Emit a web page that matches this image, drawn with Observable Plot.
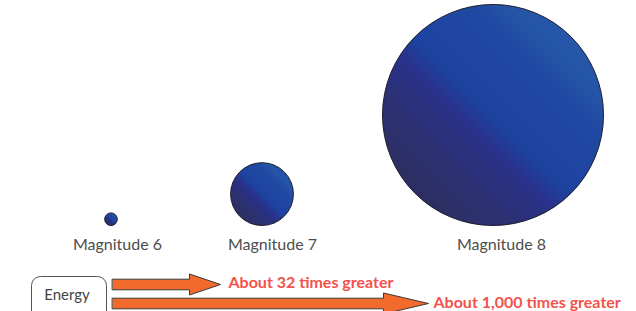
<!DOCTYPE html>
<html>
<head>
<meta charset="utf-8">
<script src="https://cdn.jsdelivr.net/npm/d3@7"></script>
<script src="https://cdn.jsdelivr.net/npm/@observablehq/plot@0.6"></script>
<style>
  html, body { margin: 0; padding: 0; background: #fff; }
  #chart svg { display: block; }
</style>
</head>
<body>
<div id="chart"></div>
<script>
// ---- data ----
const magnitudes = [6, 7, 8];
const magnitudeLabels = ["Magnitude 6", "Magnitude 7", "Magnitude 8"];
const relativeEnergy = [1, 32, 1000];
const comparisonLabels = ["About 32 times greater", "About 1,000 times greater"];
const legendLabel = "Energy";

// ---- layout (pixel positions / sizes, kept separate from data) ----
const W = 636, H = 311;
const circleCx = [110.5, 261.5, 492.5];
const circleBottom = 225;
const labelCx = [117, 272, 501];
const labelY = 244;
const radiusRange = [6.3, 31.4, 110.5];
const arrowLayout = [
  {y: 284, x0: 112, headBase: 189, tip: 220, textX: 228, textY: 282},
  {y: 303, x0: 112, headBase: 383, tip: 428, textX: 433, textY: 302}
];
const shaftHalf = 5.3, headHalf = 10.5;

const circles = magnitudes.map((m, i) => ({
  magnitude: m, energy: relativeEnergy[i], x: circleCx[i], y: circleBottom
}));
const labels = magnitudeLabels.map((t, i) => ({text: t, x: labelCx[i], y: labelY}));
const arrowPolys = [];
arrowLayout.forEach((a, i) => {
  const pts = [
    [a.x0, a.y - shaftHalf], [a.headBase, a.y - shaftHalf], [a.headBase, a.y - headHalf],
    [a.tip, a.y], [a.headBase, a.y + headHalf], [a.headBase, a.y + shaftHalf], [a.x0, a.y + shaftHalf]
  ];
  pts.forEach(p => arrowPolys.push({id: i, x: p[0], y: p[1]}));
});
const comparisons = comparisonLabels.map((t, i) => ({text: t, x: arrowLayout[i].textX, y: arrowLayout[i].textY}));

const chart = Plot.plot({
  width: W, height: H,
  margin: 0,
  x: {type: "identity", axis: null},
  y: {type: "identity", axis: null},
  r: {type: "linear", domain: relativeEnergy, range: radiusRange},
  style: {background: "#fff", fontFamily: "Lato, 'Open Sans', sans-serif", overflow: "visible"},
  marks: [
    Plot.dot(circles, {x: "x", y: "y", r: "energy", fill: "url(#ballGrad)", stroke: "#1d1d2e", strokeWidth: 1, className: "balls"}),
    Plot.text(labels, {x: "x", y: "y", text: "text", fill: "#4d4d4d", fontSize: 16, textAnchor: "middle"}),
    Plot.rect([{x1: 31.5, x2: 106.5, y1: 276.5, y2: 320}], {x1: "x1", x2: "x2", y1: "y1", y2: "y2", rx: 9, fill: "#fff", stroke: "#555", strokeWidth: 1}),
    Plot.text([{text: legendLabel, x: 66.5, y: 295}], {x: "x", y: "y", text: "text", fill: "#444", fontSize: 15, textAnchor: "middle"}),
    Plot.line(arrowPolys, {x: "x", y: "y", z: "id", curve: "linear-closed", fill: "#f26a2c", stroke: "#3a3a3a", strokeWidth: 1}),
    Plot.text(comparisons, {x: "x", y: "y", text: "text", fill: "#f2524c", fontSize: 16, fontWeight: "bold", textAnchor: "start"})
  ]
});

// gradient definition for the balls
const svg = d3.select(chart);
const defs = svg.insert("defs", ":first-child");
const g = defs.append("linearGradient").attr("id", "ballGrad")
  .attr("x1", "0").attr("y1", "1").attr("x2", "1").attr("y2", "0");
[[0, "#2e2b52"], [0.28, "#2c3170"], [0.42, "#29318a"], [0.5, "#1d43a0"], [0.7, "#2049a3"], [0.78, "#2555a6"], [1, "#2657a8"]]
  .forEach(([o, c]) => g.append("stop").attr("offset", o).attr("stop-color", c));

// bottom-align the balls (shift each up by its own radius)
svg.selectAll(".balls circle").each(function() {
  const c = d3.select(this);
  c.attr("cy", +c.attr("cy") - +c.attr("r"));
});

document.getElementById("chart").appendChild(chart);
</script>
</body>
</html>
